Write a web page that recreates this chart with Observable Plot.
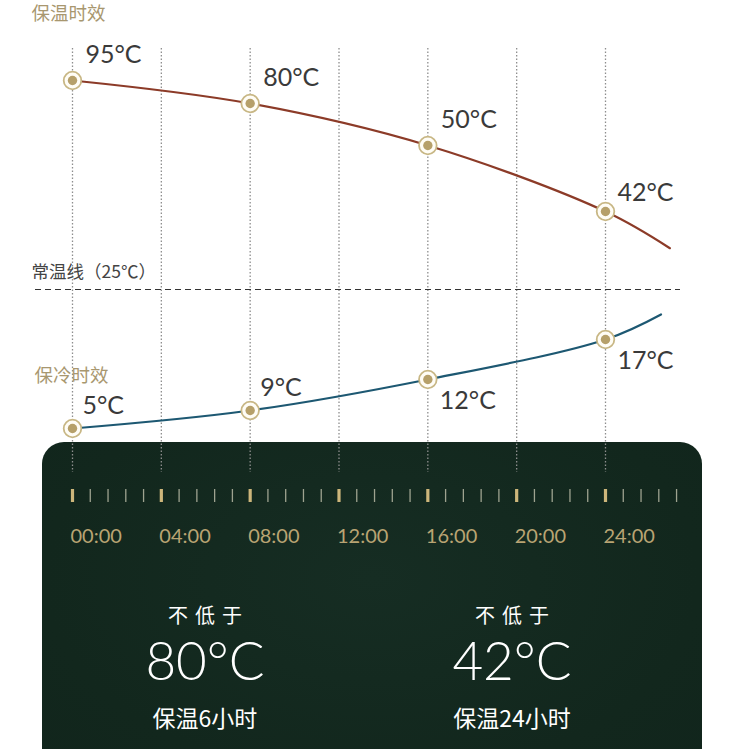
<!DOCTYPE html>
<html>
<head>
<meta charset="utf-8">
<script src="https://cdn.jsdelivr.net/npm/d3@7"></script>
<script src="https://cdn.jsdelivr.net/npm/@observablehq/plot@0.6"></script>
<style>
  body { margin: 0; background: #ffffff; }
  #wrap { position: relative; width: 737px; height: 749px; overflow: hidden; background: #ffffff;
          font-family: "Noto Sans CJK SC", "Noto Sans", sans-serif; }
  #panel { position: absolute; left: 42px; top: 442px; width: 660px; height: 340px; border-radius: 22px;
           background: radial-gradient(ellipse at 50% 40%, #162d23 0%, #12271d 70%, #11251c 100%); }
  #chart { position: absolute; left: 0; top: 0; }
  .line { position: absolute; width: 260px; text-align: center; color: #ffffff; white-space: nowrap; }
  .l1 { font-size: 20px; line-height: 20px; letter-spacing: 7px; padding-left: 7px; box-sizing: border-box; }
  .l2 { font-family: Lato, Roboto, sans-serif; font-weight: 300; font-size: 53px; line-height: 53px; }
  .l3 { font-size: 23px; line-height: 23px; }
</style>
</head>
<body>
<div id="wrap">
  <div id="panel"></div>
  <div id="chart"></div>
</div>
<script>
// ---- data ----
const hours = [0, 8, 16, 24];
const heatTemps = [95, 80, 50, 42];          // 保温时效
const coldTemps = [5, 9, 12, 17];            // 保冷时效
const roomTemp = 25;                         // 常温线
const heatTail = {hour: 26.9, temp: 34};     // curve continues past 24:00
const coldTail = {hour: 26.5, temp: 21};
const majorHours = [0, 4, 8, 12, 16, 20, 24];
const tickLabels = ["00:00", "04:00", "08:00", "12:00", "16:00", "20:00", "24:00"];
const summaryTemps = [80, 42];
const summaryHours = [6, 24];

// ---- derived tables ----
const heatPts = hours.map((h, i) => ({hour: h, temp: heatTemps[i]}));
const coldPts = hours.map((h, i) => ({hour: h, temp: coldTemps[i]}));
const heatLine = [...heatPts, heatTail];
const coldLine = [...coldPts, coldTail];
const minorHours = d3.range(0, 35).filter(i => i % 5 !== 0).map(i => i * 0.8);

// schematic (piecewise) temperature axis of the infographic: temperature -> vertical level
const schematic = d3.scaleLinear()
  .domain([5, 9, 12, 17, 25, 42, 50, 80, 95])
  .range([428, 410, 379, 339, 289, 211, 145, 103, 80]);

const gold = "#b9a473";
const cjk = "Noto Sans CJK SC";
const latin = "Lato, Roboto, sans-serif";

const chart = Plot.plot({
  width: 737,
  height: 749,
  marginTop: 48,
  marginBottom: 260,
  marginLeft: 72,
  marginRight: 132,
  style: {background: "transparent", overflow: "visible"},
  x: {domain: [0, 24], axis: null},
  y: {transform: schematic, domain: [489, 48], axis: null},
  marks: [
    Plot.gridX(majorHours, {stroke: "#8e8e8e", strokeOpacity: 1, strokeWidth: 1.3, strokeDasharray: "1.5,2", insetBottom: 17}),
    Plot.ruleY([roomTemp], {stroke: "#333", strokeWidth: 1, strokeDasharray: "6,4", insetLeft: -37, insetRight: -75}),
    Plot.text([roomTemp], {y: d => d, frameAnchor: "left", textAnchor: "start", dx: -41, dy: -17,
      text: d => `常温线（${d}℃）`, fontFamily: cjk, fontSize: 17.5, fill: "#444"}),
    Plot.text(["保温时效"], {frameAnchor: "top-left", textAnchor: "start", lineAnchor: "middle", dx: -41, dy: -34.5,
      text: d => d, fontFamily: cjk, fontSize: 18.5, fill: "#a8976f"}),
    Plot.text([coldPts[0]], {x: "hour", y: "temp", textAnchor: "start", dx: -38, dy: -52,
      text: () => "保冷时效", fontFamily: cjk, fontSize: 18.5, fill: "#a8976f"}),
    Plot.line(heatLine, {x: "hour", y: "temp", curve: "catmull-rom", stroke: "#8c3b28", strokeWidth: 2.2}),
    Plot.line(coldLine, {x: "hour", y: "temp", curve: "catmull-rom", stroke: "#1d5872", strokeWidth: 2.2}),
    Plot.dot([...heatPts, ...coldPts], {x: "hour", y: "temp", r: 8.8, fill: "#fffdf6", stroke: "#c8b785", strokeWidth: 1.8}),
    Plot.dot([...heatPts, ...coldPts], {x: "hour", y: "temp", r: 4.7, fill: "#b6a06a"}),
    Plot.text(heatPts.slice(0, 3), {x: "hour", y: "temp", text: d => `${d.temp}°C`, textAnchor: "start", dx: 13, dy: -26,
      fontFamily: latin, fontSize: 25, fill: "#3a3a3a"}),
    Plot.text(heatPts.slice(3), {x: "hour", y: "temp", text: d => `${d.temp}°C`, textAnchor: "start", dx: 12, dy: -19,
      fontFamily: latin, fontSize: 25, fill: "#3a3a3a"}),
    Plot.text(coldPts.slice(0, 2), {x: "hour", y: "temp", text: d => `${d.temp}°C`, textAnchor: "start", dx: 10, dy: -23,
      fontFamily: latin, fontSize: 25, fill: "#3a3a3a"}),
    Plot.text(coldPts.slice(2), {x: "hour", y: "temp", text: d => `${d.temp}°C`, textAnchor: "start", dx: 12, dy: 21,
      fontFamily: latin, fontSize: 25, fill: "#3a3a3a"}),
    Plot.axisX(minorHours, {anchor: "bottom", tickSize: 13, tickFormat: () => "", stroke: "#9ea390", strokeWidth: 1.3, label: null}),
    Plot.axisX(majorHours, {anchor: "bottom", tickSize: 13, tickFormat: () => "", stroke: "#cdb67b", strokeWidth: 3.2, label: null}),
    Plot.text(majorHours, {x: d => d, frameAnchor: "bottom", textAnchor: "start", lineAnchor: "middle", dx: -2, dy: 47,
      text: (d, i) => tickLabels[i], fontFamily: latin, fontSize: 20, fill: gold})
  ]
});
document.getElementById("chart").appendChild(chart);

// summary statements inside the dark panel
const wrap = document.getElementById("wrap");
const centers = [205, 512];
summaryTemps.forEach((t, i) => {
  const specs = [
    ["l1", "不低于", 605],
    ["l2", `${t}°C`, 633],
    ["l3", `保温${summaryHours[i]}小时`, 706]
  ];
  specs.forEach(([cls, txt, top]) => {
    const el = document.createElement("div");
    el.className = "line " + cls;
    el.textContent = txt;
    el.style.left = (centers[i] - 130) + "px";
    el.style.top = top + "px";
    wrap.appendChild(el);
  });
});
</script>
</body>
</html>
